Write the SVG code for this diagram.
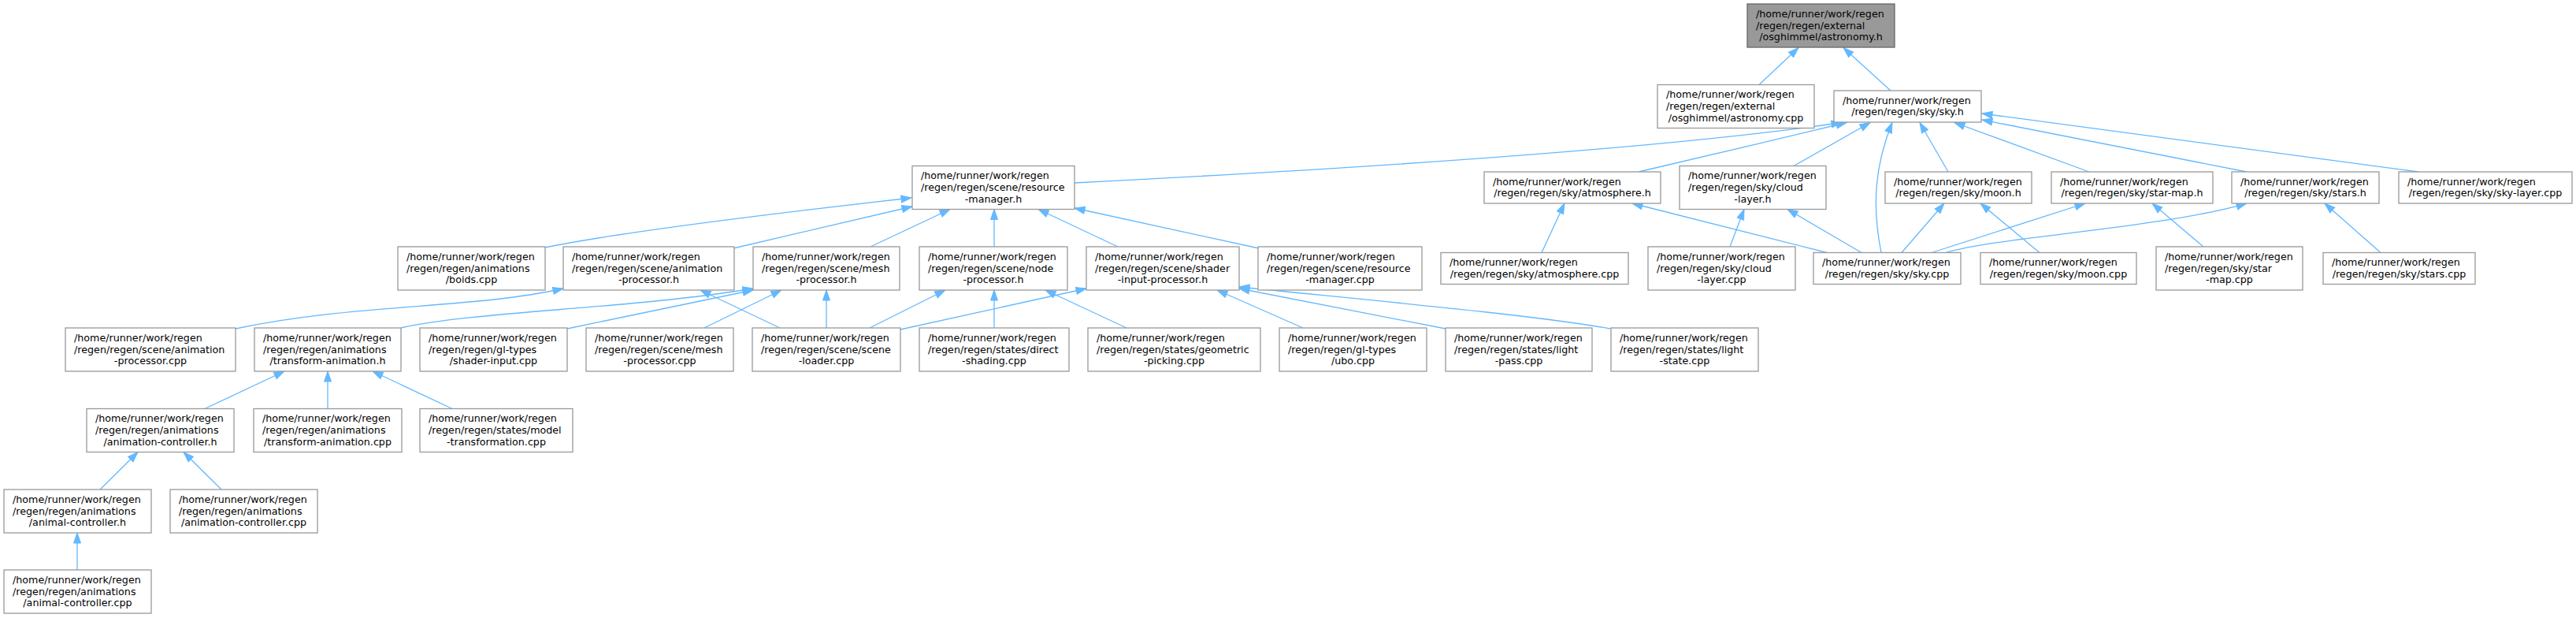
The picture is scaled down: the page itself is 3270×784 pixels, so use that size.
<svg xmlns="http://www.w3.org/2000/svg" width="3270" height="784" viewBox="0 0 3270 784">
<style>
.n rect{fill:#ffffff;stroke:#999999;stroke-width:1.3}
.root rect{fill:#999999;stroke:#666666;stroke-width:1.3}
text{font-family:"DejaVu Sans","Liberation Sans",sans-serif;font-size:12.7px;fill:#000000}
.c{text-anchor:middle}
#edges path{fill:none;stroke:#63b8ff;stroke-width:1.3;marker-end:url(#arr)}
</style>
<defs>
<marker id="arr" markerUnits="userSpaceOnUse" markerWidth="14" markerHeight="10" refX="13" refY="4.5" orient="auto" overflow="visible">
<path d="M0,0 L13,4.5 L0,9 z" fill="#63b8ff" stroke="#63b8ff" stroke-width="1"/>
</marker>
</defs>
<rect width="3270" height="784" fill="#ffffff"/>
<g id="edges">
<path d="M2233,107.5 L2283,60.5"/>
<path d="M2400,115 L2340,60.5"/>
<path d="M1364,232 C1700,215 2100,190 2338,155.5"/>
<path d="M2080,218 C2160,199 2260,176 2344,155.5"/>
<path d="M2277,210.5 L2374,155.5"/>
<path d="M2388,320.5 C2376,260 2380,210 2402,155.5"/>
<path d="M2473,218 L2437,155.5"/>
<path d="M2652,218 L2481,155.5"/>
<path d="M2852,218 L2516,152"/>
<path d="M3070,218 L2516,144"/>
<path d="M692,314 C760,300 900,280 1157,251"/>
<path d="M931,315 L1158,262"/>
<path d="M1105,313 L1206,265.5"/>
<path d="M1262,313 L1262,265.5"/>
<path d="M1419,313 L1318,265.5"/>
<path d="M1598,315 L1364,264"/>
<path d="M1957,320.5 L1986,258"/>
<path d="M2319,320.5 L2072,258"/>
<path d="M2196,313 L2214,265.5"/>
<path d="M2363,320.5 L2269,265.5"/>
<path d="M2414,320.5 L2468,258"/>
<path d="M2589,320.5 L2514,258"/>
<path d="M2452,320.5 L2647,258"/>
<path d="M2797,313 L2732,258"/>
<path d="M2470,320.5 C2540,300 2740,290 2852,258"/>
<path d="M3022,320.5 L2951,258"/>
<path d="M299,417 C450,385 600,392 715,366"/>
<path d="M990,416 L889,368"/>
<path d="M509,416 C600,395 800,392 956,366"/>
<path d="M720,417 L956,368"/>
<path d="M894,416 L992,368"/>
<path d="M1049,416 L1049,368"/>
<path d="M1104,416 L1200,368"/>
<path d="M1262,416 L1262,368"/>
<path d="M1430,416 L1327,368"/>
<path d="M1143,418 L1379,366"/>
<path d="M1654,416 L1545,368"/>
<path d="M1835,417 L1573,366"/>
<path d="M2044,417 C1950,400 1750,382 1573,364"/>
<path d="M260,518.5 L361,471"/>
<path d="M416,518.5 L416,471"/>
<path d="M574,518.5 L473,471"/>
<path d="M127,621 L175,573.5"/>
<path d="M281,621 L233,573.5"/>
<path d="M98,723 L98,676"/>
</g>
<g id="astronomy_h" class="root"><rect x="2218" y="5" width="187" height="55"/><text x="2229" y="21.8">/home/runner/work/regen</text><text x="2229" y="36.5">/regen/regen/external</text><text class="c" x="2311.5" y="51.2">/osghimmel/astronomy.h</text></g>
<g id="astronomy_cpp" class="n"><rect x="2104" y="107.5" width="199" height="55"/><text x="2115" y="124.3">/home/runner/work/regen</text><text x="2115" y="139">/regen/regen/external</text><text class="c" x="2203.5" y="153.7">/osghimmel/astronomy.cpp</text></g>
<g id="sky_h" class="n"><rect x="2328" y="115" width="187" height="40"/><text x="2339" y="131.6">/home/runner/work/regen</text><text class="c" x="2421.5" y="146.4">/regen/regen/sky/sky.h</text></g>
<g id="resource_manager_h" class="n"><rect x="1158" y="210.5" width="206" height="55"/><text x="1169" y="227.3">/home/runner/work/regen</text><text x="1169" y="242">/regen/regen/scene/resource</text><text class="c" x="1261" y="256.7">-manager.h</text></g>
<g id="atmosphere_h" class="n"><rect x="1884" y="218" width="224" height="40"/><text x="1895" y="234.6">/home/runner/work/regen</text><text class="c" x="1996" y="249.4">/regen/regen/sky/atmosphere.h</text></g>
<g id="cloud_layer_h" class="n"><rect x="2132" y="210.5" width="186" height="55"/><text x="2143" y="227.3">/home/runner/work/regen</text><text x="2143" y="242">/regen/regen/sky/cloud</text><text class="c" x="2225" y="256.7">-layer.h</text></g>
<g id="moon_h" class="n"><rect x="2393" y="218" width="186" height="40"/><text x="2404" y="234.6">/home/runner/work/regen</text><text class="c" x="2486" y="249.4">/regen/regen/sky/moon.h</text></g>
<g id="star_map_h" class="n"><rect x="2604" y="218" width="205" height="40"/><text x="2615" y="234.6">/home/runner/work/regen</text><text class="c" x="2706.5" y="249.4">/regen/regen/sky/star-map.h</text></g>
<g id="stars_h" class="n"><rect x="2833" y="218" width="187" height="40"/><text x="2844" y="234.6">/home/runner/work/regen</text><text class="c" x="2926.5" y="249.4">/regen/regen/sky/stars.h</text></g>
<g id="sky_layer_cpp" class="n"><rect x="3045" y="218" width="220" height="40"/><text x="3056" y="234.6">/home/runner/work/regen</text><text class="c" x="3155" y="249.4">/regen/regen/sky/sky-layer.cpp</text></g>
<g id="boids_cpp" class="n"><rect x="505" y="313" width="187" height="55"/><text x="516" y="329.8">/home/runner/work/regen</text><text x="516" y="344.5">/regen/regen/animations</text><text class="c" x="598.5" y="359.2">/boids.cpp</text></g>
<g id="animation_processor_h" class="n"><rect x="715" y="313" width="217" height="55"/><text x="726" y="329.8">/home/runner/work/regen</text><text x="726" y="344.5">/regen/regen/scene/animation</text><text class="c" x="823.5" y="359.2">-processor.h</text></g>
<g id="mesh_processor_h" class="n"><rect x="956" y="313" width="186" height="55"/><text x="967" y="329.8">/home/runner/work/regen</text><text x="967" y="344.5">/regen/regen/scene/mesh</text><text class="c" x="1049" y="359.2">-processor.h</text></g>
<g id="node_processor_h" class="n"><rect x="1167" y="313" width="188" height="55"/><text x="1178" y="329.8">/home/runner/work/regen</text><text x="1178" y="344.5">/regen/regen/scene/node</text><text class="c" x="1261" y="359.2">-processor.h</text></g>
<g id="shader_input_processor_h" class="n"><rect x="1379" y="313" width="194" height="55"/><text x="1390" y="329.8">/home/runner/work/regen</text><text x="1390" y="344.5">/regen/regen/scene/shader</text><text class="c" x="1476" y="359.2">-input-processor.h</text></g>
<g id="resource_manager_cpp" class="n"><rect x="1597" y="313" width="208" height="55"/><text x="1608" y="329.8">/home/runner/work/regen</text><text x="1608" y="344.5">/regen/regen/scene/resource</text><text class="c" x="1701" y="359.2">-manager.cpp</text></g>
<g id="atmosphere_cpp" class="n"><rect x="1829" y="320.5" width="238" height="40"/><text x="1840" y="337.1">/home/runner/work/regen</text><text class="c" x="1948" y="351.9">/regen/regen/sky/atmosphere.cpp</text></g>
<g id="cloud_layer_cpp" class="n"><rect x="2092" y="313" width="187" height="55"/><text x="2103" y="329.8">/home/runner/work/regen</text><text x="2103" y="344.5">/regen/regen/sky/cloud</text><text class="c" x="2185.5" y="359.2">-layer.cpp</text></g>
<g id="sky_cpp" class="n"><rect x="2302" y="320.5" width="187" height="40"/><text x="2313" y="337.1">/home/runner/work/regen</text><text class="c" x="2395.5" y="351.9">/regen/regen/sky/sky.cpp</text></g>
<g id="moon_cpp" class="n"><rect x="2514" y="320.5" width="198" height="40"/><text x="2525" y="337.1">/home/runner/work/regen</text><text class="c" x="2613" y="351.9">/regen/regen/sky/moon.cpp</text></g>
<g id="star_map_cpp" class="n"><rect x="2737" y="313" width="186" height="55"/><text x="2748" y="329.8">/home/runner/work/regen</text><text x="2748" y="344.5">/regen/regen/sky/star</text><text class="c" x="2830" y="359.2">-map.cpp</text></g>
<g id="stars_cpp" class="n"><rect x="2949" y="320.5" width="193" height="40"/><text x="2960" y="337.1">/home/runner/work/regen</text><text class="c" x="3045.5" y="351.9">/regen/regen/sky/stars.cpp</text></g>
<g id="scene_animation_processor_cpp" class="n"><rect x="83" y="416" width="216" height="55"/><text x="94" y="432.8">/home/runner/work/regen</text><text x="94" y="447.5">/regen/regen/scene/animation</text><text class="c" x="191" y="462.2">-processor.cpp</text></g>
<g id="transform_animation_h" class="n"><rect x="323" y="416" width="186" height="55"/><text x="334" y="432.8">/home/runner/work/regen</text><text x="334" y="447.5">/regen/regen/animations</text><text class="c" x="416" y="462.2">/transform-animation.h</text></g>
<g id="shader_input_cpp" class="n"><rect x="533" y="416" width="187" height="55"/><text x="544" y="432.8">/home/runner/work/regen</text><text x="544" y="447.5">/regen/regen/gl-types</text><text class="c" x="626.5" y="462.2">/shader-input.cpp</text></g>
<g id="mesh_processor_cpp" class="n"><rect x="744" y="416" width="187" height="55"/><text x="755" y="432.8">/home/runner/work/regen</text><text x="755" y="447.5">/regen/regen/scene/mesh</text><text class="c" x="837.5" y="462.2">-processor.cpp</text></g>
<g id="scene_loader_cpp" class="n"><rect x="955" y="416" width="188" height="55"/><text x="966" y="432.8">/home/runner/work/regen</text><text x="966" y="447.5">/regen/regen/scene/scene</text><text class="c" x="1049" y="462.2">-loader.cpp</text></g>
<g id="direct_shading_cpp" class="n"><rect x="1167" y="416" width="190" height="55"/><text x="1178" y="432.8">/home/runner/work/regen</text><text x="1178" y="447.5">/regen/regen/states/direct</text><text class="c" x="1262" y="462.2">-shading.cpp</text></g>
<g id="geometric_picking_cpp" class="n"><rect x="1381" y="416" width="219" height="55"/><text x="1392" y="432.8">/home/runner/work/regen</text><text x="1392" y="447.5">/regen/regen/states/geometric</text><text class="c" x="1490.5" y="462.2">-picking.cpp</text></g>
<g id="ubo_cpp" class="n"><rect x="1624" y="416" width="187" height="55"/><text x="1635" y="432.8">/home/runner/work/regen</text><text x="1635" y="447.5">/regen/regen/gl-types</text><text class="c" x="1717.5" y="462.2">/ubo.cpp</text></g>
<g id="light_pass_cpp" class="n"><rect x="1835" y="416" width="186" height="55"/><text x="1846" y="432.8">/home/runner/work/regen</text><text x="1846" y="447.5">/regen/regen/states/light</text><text class="c" x="1928" y="462.2">-pass.cpp</text></g>
<g id="light_state_cpp" class="n"><rect x="2045" y="416" width="187" height="55"/><text x="2056" y="432.8">/home/runner/work/regen</text><text x="2056" y="447.5">/regen/regen/states/light</text><text class="c" x="2138.5" y="462.2">-state.cpp</text></g>
<g id="animation_controller_h" class="n"><rect x="110" y="518.5" width="187" height="55"/><text x="121" y="535.3">/home/runner/work/regen</text><text x="121" y="550">/regen/regen/animations</text><text class="c" x="203.5" y="564.7">/animation-controller.h</text></g>
<g id="transform_animation_cpp" class="n"><rect x="322" y="518.5" width="188" height="55"/><text x="333" y="535.3">/home/runner/work/regen</text><text x="333" y="550">/regen/regen/animations</text><text class="c" x="416" y="564.7">/transform-animation.cpp</text></g>
<g id="model_transformation_cpp" class="n"><rect x="533" y="518.5" width="194" height="55"/><text x="544" y="535.3">/home/runner/work/regen</text><text x="544" y="550">/regen/regen/states/model</text><text class="c" x="630" y="564.7">-transformation.cpp</text></g>
<g id="animal_controller_h" class="n"><rect x="5" y="621" width="187" height="55"/><text x="16" y="637.8">/home/runner/work/regen</text><text x="16" y="652.5">/regen/regen/animations</text><text class="c" x="98.5" y="667.2">/animal-controller.h</text></g>
<g id="animation_controller_cpp" class="n"><rect x="216" y="621" width="187" height="55"/><text x="227" y="637.8">/home/runner/work/regen</text><text x="227" y="652.5">/regen/regen/animations</text><text class="c" x="309.5" y="667.2">/animation-controller.cpp</text></g>
<g id="animal_controller_cpp" class="n"><rect x="5" y="723" width="187" height="55"/><text x="16" y="739.8">/home/runner/work/regen</text><text x="16" y="754.5">/regen/regen/animations</text><text class="c" x="98.5" y="769.2">/animal-controller.cpp</text></g>
</svg>
